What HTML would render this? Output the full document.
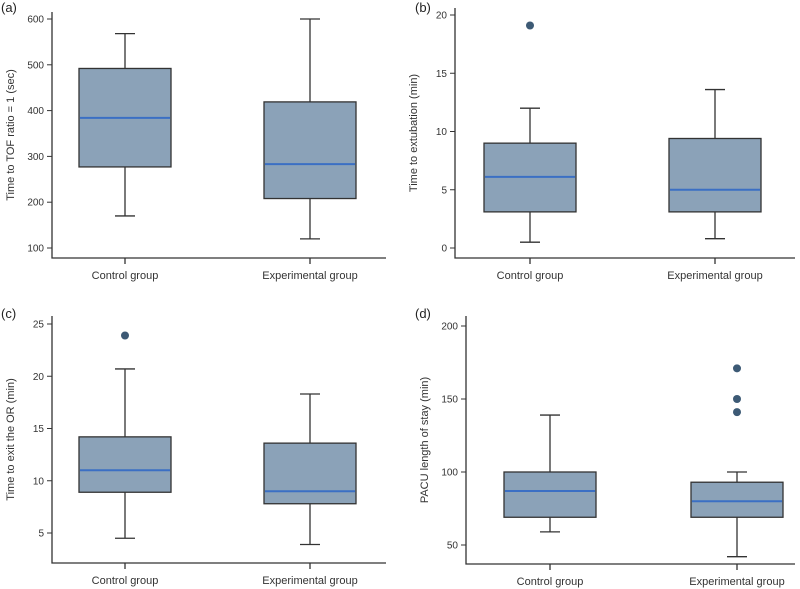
<!DOCTYPE html>
<html><head><meta charset="utf-8"><style>
body{margin:0;background:#fff}
svg{display:block;font-family:"Liberation Sans",sans-serif}
</style></head><body>
<svg id="c" width="800" height="589"></svg>
<script>
const categories=["Control group","Experimental group"];
const aTicks=[100,200,300,400,500,600];
const aStats=[[170,277,384,492,568],[120,208,283,419,600]];
const aOut=[[],[]];
const bTicks=[0,5,10,15,20];
const bStats=[[0.5,3.1,6.1,9.0,12.0],[0.8,3.1,5.0,9.4,13.6]];
const bOut=[[19.1],[]];
const cTicks=[5,10,15,20,25];
const cStats=[[4.5,8.9,11.0,14.2,20.7],[3.9,7.8,9.0,13.6,18.3]];
const cOut=[[23.9],[]];
const dTicks=[50,100,150,200];
const dStats=[[59,69,87,100,139],[42,69,80,93,100]];
const dOut=[[],[141,150,171]];

const svg=document.getElementById('c');const NS='http://www.w3.org/2000/svg';
function mk(t,a,p){const e=document.createElementNS(NS,t);for(const k in a)e.setAttribute(k,a[k]);(p||svg).appendChild(e);return e;}
function panel(id,letter,title,ticks,stats,outs,g){
  const grp=mk('g',{});
  
  
  const y=v=>g.y0+(v-g.v0)*(g.y1-g.y0)/(g.v1-g.v0);
  const xs=[g.x0+g.c0,g.x0+g.c1];
  let t=mk('text',{x:g.lx,y:g.ly,'font-size':13,fill:'#222'},grp);t.textContent='('+letter+')';
  
  mk('path',{d:`M${g.x0} ${g.top}V${g.base}H${g.x1}`,stroke:'#333','stroke-width':1.3,fill:'none'},grp);
  ticks.forEach(v=>{const yy=y(v);mk('line',{x1:g.x0-5,x2:g.x0,y1:yy,y2:yy,stroke:'#333'},grp);
    const tx=mk('text',{x:g.x0-8,y:yy+3.5,'font-size':10,fill:'#333','text-anchor':'end'},grp);tx.textContent=v;
    });
  const yt=mk('text',{transform:`translate(${g.x0-38},${(g.top+g.base)/2}) rotate(-90)`,'font-size':11,fill:'#333','text-anchor':'middle'},grp);
  yt.textContent=title;
  categories.forEach((c,i)=>{const x=xs[i];
    mk('line',{x1:x,x2:x,y1:g.base,y2:g.base+6,stroke:'#333','stroke-width':1.3},grp);
    const tx=mk('text',{x:x,y:g.base+21,'font-size':11,fill:'#333','text-anchor':'middle'},grp);tx.textContent=c;
    
    const s=stats[i],hw=46;
    mk('line',{x1:x,x2:x,y1:y(s[0]),y2:y(s[1]),stroke:'#333','stroke-width':1.3},grp);
    mk('line',{x1:x,x2:x,y1:y(s[3]),y2:y(s[4]),stroke:'#333','stroke-width':1.3},grp);
    mk('line',{x1:x-10,x2:x+10,y1:y(s[0]),y2:y(s[0]),stroke:'#333','stroke-width':1.3},grp);
    mk('line',{x1:x-10,x2:x+10,y1:y(s[4]),y2:y(s[4]),stroke:'#333','stroke-width':1.3},grp);
    const b=mk('rect',{x:x-hw,y:y(s[3]),width:2*hw,height:y(s[1])-y(s[3]),fill:'#8ba2b8',stroke:'#333','stroke-width':1.3},grp);
    
    const m=mk('line',{x1:x-hw+1,x2:x+hw-1,y1:y(s[2]),y2:y(s[2]),stroke:'#3b6fc4','stroke-width':2},grp);
    
    outs[i].forEach(o=>{const p=mk('circle',{cx:x,cy:y(o),r:4,fill:'#3d5a75'},grp);
      });
  });
}
panel('a','a','Time to TOF ratio = 1 (sec)',aTicks,aStats,aOut,{x0:52,x1:386,top:12,base:258,v0:100,v1:600,y0:248,y1:19,c0:73,c1:258,lx:1,ly:12});
panel('b','b','Time to extubation (min)',bTicks,bStats,bOut,{x0:455,x1:795,top:8,base:258,v0:0,v1:20,y0:248,y1:15,c0:75,c1:260,lx:415,ly:12});
panel('c','c','Time to exit the OR (min)',cTicks,cStats,cOut,{x0:52,x1:386,top:316,base:563,v0:5,v1:25,y0:533,y1:324,c0:73,c1:258,lx:1,ly:318});
panel('d','d','PACU length of stay (min)',dTicks,dStats,dOut,{x0:466,x1:795,top:316,base:564,v0:50,v1:200,y0:545,y1:326,c0:84,c1:271,lx:415,ly:318});
</script>
</body></html>
